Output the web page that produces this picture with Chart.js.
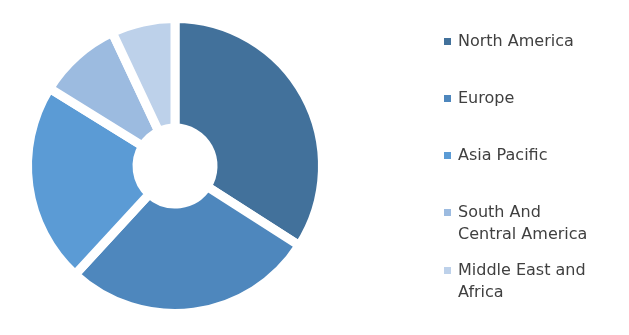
<!DOCTYPE html>
<html>
<head>
<meta charset="utf-8">
<script src="https://cdn.jsdelivr.net/npm/chart.js@4.4.0/dist/chart.umd.min.js"></script>
<style>
  html, body { margin: 0; padding: 0; background: #fff; }
  #wrap { width: 629px; height: 335px; position: relative; }
</style>
</head>
<body>
<div id="wrap"><canvas id="chart"></canvas></div>
<script>
const regions = ["North America", "Europe", "Asia Pacific", "South And Central America", "Middle East and Africa"];
const legendLines = [["North America"], ["Europe"], ["Asia Pacific"], ["South And", "Central America"], ["Middle East and", "Africa"]];
const shares = [34.1, 27.8, 22.0, 9.2, 7.0];
const colors = ["#42719b", "#4e87bd", "#5b9bd5", "#9cbbe0", "#bdd1ea"];

// legend drawn by hand so the two-line labels wrap like the original
const sideLegend = {
    id: "sideLegend",
    afterDraw: function (chart) {
        const ctx = chart.ctx;
        const tops = [42, 99, 156, 213, 271];
        const lineHeight = 22;
        ctx.save();
        ctx.font = "16px 'DejaVu Sans'";
        ctx.textBaseline = "middle";
        for (var i = 0; i < legendLines.length; i++) {
            ctx.fillStyle = colors[i];
            ctx.fillRect(444, tops[i] - 4, 7, 7);
            ctx.fillStyle = "#404040";
            for (var j = 0; j < legendLines[i].length; j++) {
                ctx.fillText(legendLines[i][j], 458, tops[i] + j * lineHeight);
            }
        }
        ctx.restore();
    }
};

new Chart(document.getElementById("chart"), {
    type: "doughnut",
    data: {
        labels: regions,
        datasets: [{
            data: shares,
            backgroundColor: colors,
            borderColor: "#ffffff",
            borderWidth: 9,
            borderJoinStyle: "miter"
        }]
    },
    options: {
        responsive: true,
        maintainAspectRatio: false,
        animation: false,
        cutout: 38,
        layout: { padding: { left: 23, right: 302, top: 14, bottom: 17 } },
        plugins: {
            legend: { display: false },
            tooltip: { enabled: false }
        }
    },
    plugins: [sideLegend]
});
</script>
</body>
</html>
